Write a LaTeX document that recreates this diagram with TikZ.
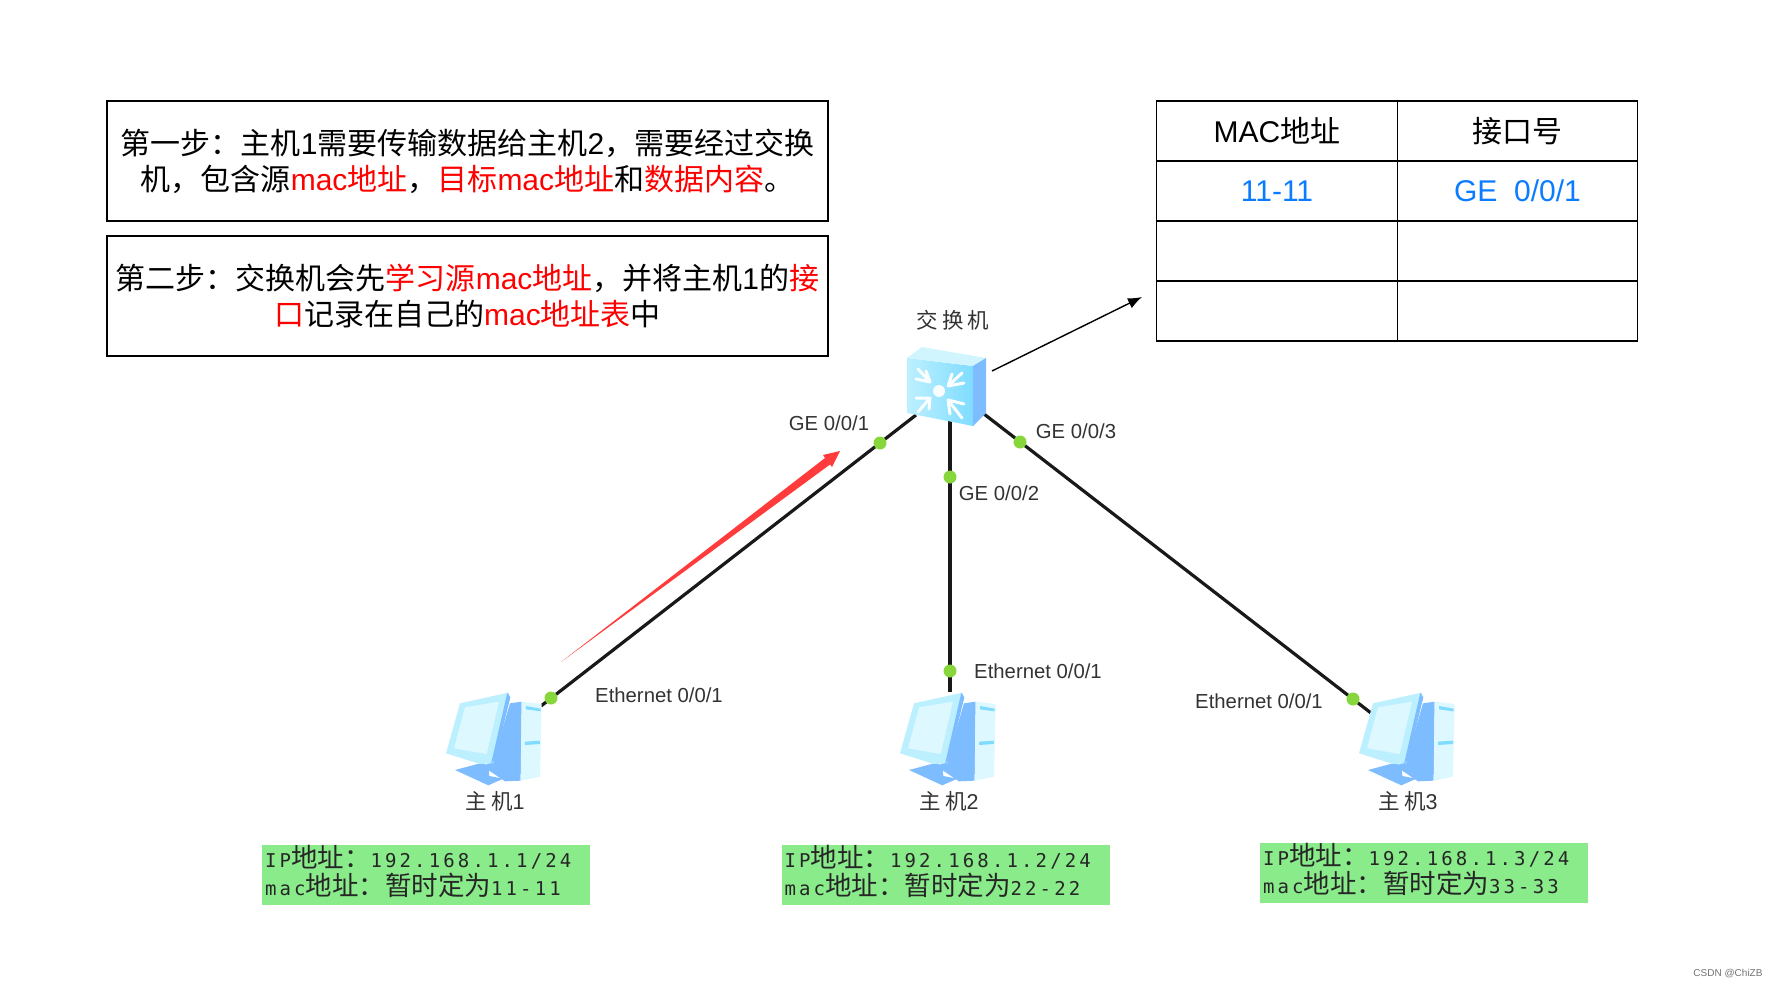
\documentclass[tikz,border=0pt]{standalone}
\usepackage{fontspec}
\usetikzlibrary{arrows.meta}
\setmainfont{Liberation Sans}
\newfontfamily\cjkf{Noto Sans CJK SC}
\newfontfamily\monof[LetterSpace=16.5]{DejaVu Sans Mono}
\newcommand{\zh}[1]{{\cjkf #1}}
\newcommand{\zb}[1]{{\fontsize{26.5}{26}\selectfont\cjkf #1}}
\newcommand{\rd}[1]{\textcolor{txtred}{#1}}
\newcommand{\spc}{\hspace{4pt}}
\definecolor{txtred}{HTML}{FF0000}
\definecolor{txtblue}{HTML}{0B7BFF}
\definecolor{netgreen}{HTML}{8AEB8A}
\definecolor{dotgreen}{HTML}{86D63C}
\definecolor{arrred}{HTML}{FF3B3B}
\definecolor{iconlight}{HTML}{BDF0FF}
\definecolor{iconmid}{HTML}{7FDCFF}
\definecolor{iconblue}{HTML}{7CBCFF}
\definecolor{iconpale}{HTML}{DDF8FF}
\definecolor{lbl}{HTML}{333333}
\tikzset{
  stepbox/.style={draw=black,line width=1.1pt,minimum width=721pt,minimum height=120pt,inner sep=0pt,align=center,font=\fontsize{30}{36}\selectfont},
  cell/.style={draw=black,line width=1.1pt,minimum width=240.5pt,minimum height=60pt,inner sep=0pt,font=\fontsize{30}{36}\selectfont},
  netbox/.style={fill=netgreen,minimum width=328pt,minimum height=60pt,inner sep=0pt},
  nettext/.style={inner sep=0pt,text width=322pt,align=left,font=\fontsize{19}{28}\selectfont\monof,text=black!85},
  port/.style={font=\fontsize{20.3}{24}\selectfont,text=lbl},
  devlabel/.style={font=\fontsize{21.5}{24}\selectfont,text=lbl},
  dot/.style={circle,fill=dotgreen,minimum size=13pt,inner sep=0pt},
  link/.style={line width=3.2pt,draw=black!90},
  hosticon/.pic={
    \begin{scope}[x=0.3333pt,y=-0.3333pt]
      \fill[iconblue] (75,300)--(150,280)--(175,285)--(178,318)--(220,326)--(175,346)--cycle;
      \fill[iconblue] (240,100)--(275,95)--(272,332)--(225,334)--(160,290)--(190,270)--cycle;
      \fill[iconpale] (275,95)--(335,102)--(330,320)--(272,332)--cycle;
      \fill[iconmid] (285,215)--(330,212)--(330,222)--(285,225)--cycle;
      \fill[iconmid] (288,108)--(332,116)--(332,124)--(288,118)--cycle;
      \fill[iconlight] (48,250)--(90,100)--(235,68)--(240,82)--(190,280)--(150,282)--cycle;
      \fill[iconblue] (232,68)--(241,82)--(195,270)--(183,282)--cycle;
      \fill[iconpale] (72,235)--(105,112)--(207,95)--(170,252)--cycle;
    \end{scope}
  }
}
\begin{document}
\begin{tikzpicture}[x=1pt,y=-1pt]
\useasboundingbox (0,0) rectangle (1778,988);
\node[stepbox] (s1) at (467.5,161) {\zh{第一步：主机}1\zh{需要传输数据给主机}2\zh{，需要经过交换}\\[0pt]\zh{机，包含源}\rd{mac\zh{地址}}\zh{，}\rd{\zh{目标}mac\zh{地址}}\zh{和}\rd{\zh{数据内容}}\zh{。}};
\node[stepbox] (s2) at (467.5,296) {\zh{第二步：交换机会先}\rd{\zh{学习源}mac\zh{地址}}\zh{，并将主机}1\zh{的}\rd{\zh{接}}\\\rd{\zh{口}}\zh{记录在自己的}\rd{mac\zh{地址表}}\zh{中}};
% table
\node[cell] (t11) at (1277,131) {MAC\zh{地址}};
\node[cell] (t12) at (1517.5,131) {\zh{接口号}};
\node[cell,text=txtblue] (t21) at (1277,191) {11-11};
\node[cell,text=txtblue] (t22) at (1517.5,191) {GE\ \ 0/0/1};
\node[cell] (t31) at (1277,251) {};
\node[cell] (t32) at (1517.5,251) {};
\node[cell] (t41) at (1277,311) {};
\node[cell] (t42) at (1517.5,311) {};
% anchors
\coordinate (swA) at (916,415);
\coordinate (swB) at (950,421);
\coordinate (swC) at (984,414);
\coordinate (hA) at (541,706);
\coordinate (hB) at (950,692);
\coordinate (hC) at (1371,713);
\coordinate (swTail) at (992,371);
\coordinate (tblTip) at (1142,297);
% links
\draw[link] (swA) -- (hA);
\draw[link] (swB) -- (hB);
\draw[link] (swC) -- (hC);
\node[dot] (d1) at (880,443) {};
\node[dot] (d2) at (950,477) {};
\node[dot] (d3) at (1020,442) {};
\node[dot] (d4) at (551,698) {};
\node[dot] (d5) at (950,671) {};
\node[dot] (d6) at (1353,699) {};
% switch icon
\shade[left color=iconlight,right color=iconmid] (907,358)--(973,366)--(973,426)--(907,413)--cycle;
\fill[iconlight!70!white] (907,358)--(922,347)--(986,358)--(973,366)--cycle;
\fill[iconblue] (973,366)--(986,358)--(986,413)--(973,426)--cycle;
\fill[white!90!iconlight] (939,391) circle (6);
\begin{scope}[white!92!iconlight,line width=3pt,line cap=round,line join=round]
  \draw (918,369)--(930,382) (916,379)--(930,382)--(926,371);
  \draw (962,373)--(948,386) (964,383)--(948,386)--(952,374);
  \draw (918,412)--(930,398) (916,398)--(930,398)--(929,409);
  \draw (962,418)--(948,400) (964,404)--(948,400)--(950,414);
\end{scope}
% hosts
\pic at (430,670) {hosticon};
\pic at (884,670) {hosticon};
\pic at (1343,670) {hosticon};
% labels
\node[devlabel] (lsw) at (953,320) {\zh{交\spc 换\spc 机}};
\node[devlabel] (lh1) at (495,801) {\zh{主\spc 机}1};
\node[devlabel] (lh2) at (949,801) {\zh{主\spc 机}2};
\node[devlabel] (lh3) at (1408,801) {\zh{主\spc 机}3};
\node[port] (p1) at (829,423) {GE 0/0/1};
\node[port] (p2) at (999,493) {GE 0/0/2};
\node[port] (p3) at (1076,431) {GE 0/0/3};
\node[port] (e1) at (659,695) {Ethernet 0/0/1};
\node[port] (e2) at (1038,671) {Ethernet 0/0/1};
\node[port] (e3) at (1259,701) {Ethernet 0/0/1};
% arrows
\draw[line width=1.4pt,-{Latex[length=14pt,width=11pt]}] (swTail) -- (tblTip);
\coordinate (redS) at (561,662);
\coordinate (redT) at (840,451);
\fill[arrred] (redS)--(825,458)--(823,455)--(redT)--(832,467)--(830,464.5)--cycle;
% green
\node[netbox] (n1) at (426,875) {};
\node[netbox] (n2) at (945.5,875) {};
\node[netbox] (n3) at (1424,873) {};
\node[nettext] (n1t) at (426,871) {IP\zb{地址：}192.168.1.1/24\\mac\zb{地址：暂时定为}11-11};
\node[nettext] (n2t) at (945.5,871) {IP\zb{地址：}192.168.1.2/24\\mac\zb{地址：暂时定为}22-22};
\node[nettext] (n3t) at (1424,869) {IP\zb{地址：}192.168.1.3/24\\mac\zb{地址：暂时定为}33-33};
\node[font=\fontsize{10}{12}\selectfont,text=black!55] (wm) at (1728,974) {CSDN @ChiZB};
\end{tikzpicture}
\end{document}
